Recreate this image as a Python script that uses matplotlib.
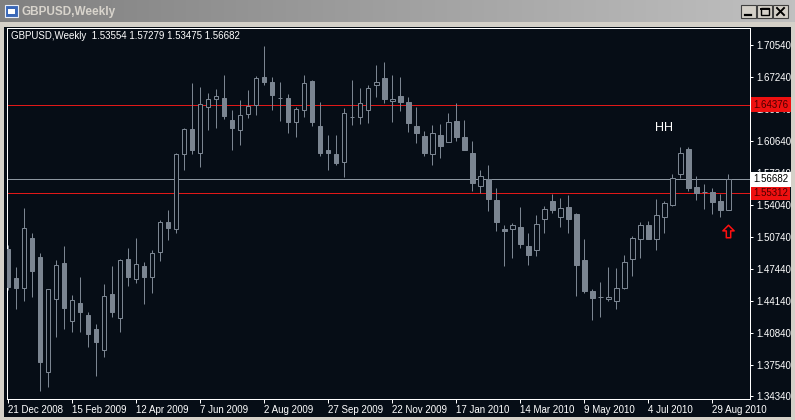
import numpy as np
import matplotlib
matplotlib.use('Agg')
import matplotlib.pyplot as plt
from matplotlib.patches import Rectangle
from matplotlib.path import Path
from matplotlib.colors import LinearSegmentedColormap

plt.rcParams['font.family'] = ['Liberation Sans', 'DejaVu Sans']

# weekly GBPUSD bars, 21 Dec 2008 .. 12 Sep 2010
opens = [1.4950, 1.4651, 1.4545, 1.5060, 1.4864, 1.3678, 1.4431, 1.4802, 1.4204, 1.4390,
         1.4266, 1.4122, 1.3905, 1.4483, 1.4235, 1.4844, 1.4637, 1.4771, 1.4658, 1.4916,
         1.5225, 1.5160, 1.5926, 1.6188, 1.5944, 1.6418, 1.6501, 1.6507, 1.6281, 1.6181,
         1.6339, 1.6439, 1.6724, 1.6672, 1.6504, 1.6507, 1.6263, 1.6387, 1.6683, 1.6219,
         1.5971, 1.5930, 1.5851, 1.6308, 1.6315, 1.6387, 1.6645, 1.6714, 1.6473, 1.6528,
         1.6466, 1.6219, 1.6116, 1.5933, 1.6126, 1.6057, 1.6274, 1.6105, 1.5940, 1.5596,
         1.5669, 1.5456, 1.5156, 1.5153, 1.5177, 1.4981, 1.4943, 1.5263, 1.5445, 1.5284,
         1.5383, 1.5315, 1.4837, 1.4517, 1.4459, 1.4431, 1.4410, 1.4545, 1.4850, 1.5050,
         1.5194, 1.5057, 1.5284, 1.5407, 1.5720, 1.5981, 1.5590, 1.5535, 1.5535, 1.5442,
         1.53554]
highs = [1.4991, 1.4765, 1.5370, 1.5115, 1.4912, 1.4540, 1.4837, 1.4981, 1.4472, 1.4661,
         1.4300, 1.4177, 1.4589, 1.4775, 1.4844, 1.4957, 1.5060, 1.4816, 1.4940, 1.5246,
         1.5349, 1.5940, 1.6201, 1.6666, 1.6621, 1.6559, 1.6597, 1.6745, 1.6384, 1.6487,
         1.6590, 1.6734, 1.7044, 1.6724, 1.6672, 1.6549, 1.6411, 1.6745, 1.6690, 1.6466,
         1.6126, 1.6126, 1.6404, 1.6693, 1.6611, 1.6642, 1.6848, 1.6879, 1.6745, 1.6724,
         1.6518, 1.6415, 1.6167, 1.6229, 1.6239, 1.6353, 1.6456, 1.6281, 1.6064, 1.5765,
         1.5816, 1.5579, 1.5198, 1.5218, 1.5383, 1.5115, 1.5301, 1.5394, 1.5521, 1.5476,
         1.5504, 1.5320, 1.5053, 1.4538, 1.4610, 1.4765, 1.4754, 1.4888, 1.5084, 1.5229,
         1.5239, 1.5462, 1.5442, 1.5724, 1.6002, 1.6002, 1.5703, 1.5620, 1.5576, 1.5521,
         1.57279]
lows = [1.4527, 1.4335, 1.4417, 1.4459, 1.3489, 1.3530, 1.4039, 1.4122, 1.4091, 1.4098,
        1.3943, 1.3644, 1.3833, 1.4245, 1.4098, 1.4569, 1.4596, 1.4383, 1.4493, 1.4830,
        1.5046, 1.5112, 1.5768, 1.5933, 1.5799, 1.6177, 1.6198, 1.6291, 1.5971, 1.6023,
        1.6301, 1.6332, 1.6642, 1.6384, 1.6274, 1.6146, 1.6105, 1.6308, 1.6219, 1.5909,
        1.5765, 1.5816, 1.5693, 1.6229, 1.6239, 1.6250, 1.6514, 1.6459, 1.6263, 1.6373,
        1.6157, 1.6047, 1.5909, 1.5816, 1.5889, 1.6050, 1.6067, 1.5970, 1.5548, 1.5528,
        1.5342, 1.5136, 1.4775, 1.4857, 1.4960, 1.4789, 1.4878, 1.5119, 1.5325, 1.5180,
        1.5119, 1.4469, 1.4493, 1.4221, 1.4252, 1.4417, 1.4335, 1.4540, 1.4675, 1.4857,
        1.5050, 1.4943, 1.5119, 1.5397, 1.5686, 1.5548, 1.5459, 1.5366, 1.5315, 1.5284,
        1.53475]
closes = [1.4562, 1.4545, 1.5163, 1.4727, 1.3788, 1.4534, 1.4782, 1.4345, 1.4421, 1.4304,
          1.4077, 1.3994, 1.4462, 1.4304, 1.4837, 1.4665, 1.4792, 1.4665, 1.4912, 1.5225,
          1.5170, 1.5926, 1.6188, 1.5975, 1.6446, 1.6494, 1.6525, 1.6325, 1.6198, 1.6329,
          1.6421, 1.6710, 1.6676, 1.6542, 1.6504, 1.6260, 1.6391, 1.6662, 1.6260, 1.5944,
          1.5944, 1.5837, 1.6349, 1.6308, 1.6452, 1.6607, 1.6669, 1.6501, 1.6494, 1.6470,
          1.6253, 1.6150, 1.5944, 1.6143, 1.6016, 1.6260, 1.6109, 1.5975, 1.5634, 1.5703,
          1.5469, 1.5232, 1.5132, 1.5194, 1.5005, 1.4892, 1.5208, 1.5359, 1.5356, 1.5370,
          1.5263, 1.4789, 1.4520, 1.4448, 1.4459, 1.4452, 1.4548, 1.4813, 1.5064, 1.5194,
          1.5053, 1.5297, 1.5421, 1.5679, 1.5937, 1.5583, 1.5528, 1.5535, 1.5438, 1.5349,
          1.56682]

date_labels = ['21 Dec 2008', '15 Feb 2009', '12 Apr 2009', '7 Jun 2009', '2 Aug 2009',
               '27 Sep 2009', '22 Nov 2009', '17 Jan 2010', '14 Mar 2010', '9 May 2010',
               '4 Jul 2010', '29 Aug 2010']
price_ticks = [1.70540, 1.67240, 1.63940, 1.60640, 1.57340, 1.54040, 1.50740,
               1.47440, 1.44140, 1.40840, 1.37540, 1.34340]
red_levels = [1.64376, 1.55312]
bid = 1.56682

BG = '#060d16'
CANDLE = '#7b8591'
LW = 0.72  # one pixel at 100 dpi
W, H = 795, 420

fig = plt.figure(figsize=(W / 100, H / 100), dpi=100, facecolor='#d4d0c8')

# window chrome: title bar
tb = fig.add_axes([0, 1 - 22 / H, 1, 22 / H])
grad = LinearSegmentedColormap.from_list('tb', ['#808080', '#c0c0c0'])
tb.imshow(np.linspace(0, 1, 256)[None, :], cmap=grad, aspect='auto', extent=[0, W, 22, 0])
tb.set_xlim(0, W)
tb.set_ylim(22, 0)
tb.set_axis_off()
tb.add_patch(Rectangle((5, 5), 13, 12, facecolor='#3a68b8', edgecolor='#e8eef8', lw=0.8))
tb.add_patch(Rectangle((8, 9), 7, 5, facecolor='white', edgecolor='none'))
tb.text(22, 11.5, 'GBPUSD,Weekly', color='#d8d4cc', fontsize=8.5, fontweight='bold',
        va='center', ha='left')
for bx in [741, 757, 773]:
    tb.add_patch(Rectangle((bx, 5), 15, 13, facecolor='#d4d0c8', edgecolor='#404040', lw=0.8))
tb.plot([745, 751], [15, 15], color='black', lw=1.6)
tb.add_patch(Rectangle((761, 8), 8, 7, facecolor='none', edgecolor='black', lw=1.0))
tb.plot([761, 769], [8.5, 8.5], color='black', lw=1.4)
tb.plot([777, 784], [8, 15], color='black', lw=1.4)
tb.plot([777, 784], [15, 8], color='black', lw=1.4)

# dark chart window behind the axes
fig.add_artist(Rectangle((4 / W, 1 - 417 / H), 787 / W, 390 / H, transform=fig.transFigure,
                         facecolor=BG, edgecolor='none', zorder=-10))

ax = fig.add_axes([7 / W, 1 - 399 / H, 743 / W, 371 / H])
ax.set_zorder(5)
ax.set_facecolor(BG)
for s in ax.spines.values():
    s.set_color('white')
    s.set_linewidth(LW)

n = len(opens)
x = np.arange(n)
o = np.array(opens)
c = np.array(closes)
bull = c > o

ax.vlines(x, lows, highs, color=CANDLE, lw=LW, zorder=2)
bottoms = np.minimum(o, c)
heights = np.abs(c - o)
ax.bar(x[bull], heights[bull], 0.55, bottom=bottoms[bull], facecolor=BG,
       edgecolor=CANDLE, lw=LW, zorder=3)
ax.bar(x[~bull], heights[~bull], 0.55, bottom=bottoms[~bull], facecolor=CANDLE,
       edgecolor=CANDLE, lw=LW, zorder=3)

for lv in red_levels:
    ax.axhline(lv, color='#e01818', lw=LW, zorder=1.5)
ax.axhline(bid, color='#8c96a0', lw=LW, zorder=1.5)

ax.set_xlim(-0.16, 92.71)
ax.set_ylim(1.70540 - 354 * 0.0010313, 1.70540 + 17 * 0.0010313)

ax.yaxis.tick_right()
ax.set_yticks(price_ticks)
ax.set_yticklabels(['%.5f' % v for v in price_ticks])
ax.set_xticks(np.arange(0, 8 * len(date_labels), 8))
ax.set_xticklabels(date_labels)
for lbl in ax.get_xticklabels():
    lbl.set_horizontalalignment('left')
ax.tick_params(axis='y', colors='white', labelsize=7, length=2.2, width=LW, pad=2)
ax.tick_params(axis='x', colors='white', labelsize=7, length=3, width=LW, pad=1)

# current price markers on the price scale
ytr = ax.get_yaxis_transform()
for lv in red_levels:
    ax.text(1.004, lv, '%.5f' % lv, transform=ytr, ha='left', va='center', fontsize=7,
            color='#4a0000', clip_on=False, zorder=6,
            bbox=dict(boxstyle='square,pad=0.25', facecolor='#ee1010', edgecolor='none'))
ax.text(1.004, bid, '%.5f' % bid, transform=ytr, ha='left', va='center', fontsize=7,
        color='black', clip_on=False, zorder=6,
        bbox=dict(boxstyle='square,pad=0.25', facecolor='white', edgecolor='none'))

ax.text(0.0054, 0.978, 'GBPUSD,Weekly  %.5f %.5f %.5f %.5f' % (opens[-1], highs[-1], lows[-1], closes[-1]),
        transform=ax.transAxes, color='white', fontsize=7, ha='left', va='center')

ax.text(82, 1.6198, 'HH', color='white', fontsize=9, ha='center', va='center')

arrow = Path([(0, 1), (0.9, 0.1), (0.35, 0.1), (0.35, -1), (-0.35, -1), (-0.35, 0.1),
              (-0.9, 0.1), (0, 1)],
             [Path.MOVETO] + [Path.LINETO] * 6 + [Path.CLOSEPOLY])
ax.plot([n - 1], [1.5136], marker=arrow, markersize=9, markerfacecolor='none',
        markeredgecolor='#ff1010', markeredgewidth=1.1, linestyle='none', zorder=5)

fig.savefig('out.png', dpi=100, facecolor=fig.get_facecolor())
